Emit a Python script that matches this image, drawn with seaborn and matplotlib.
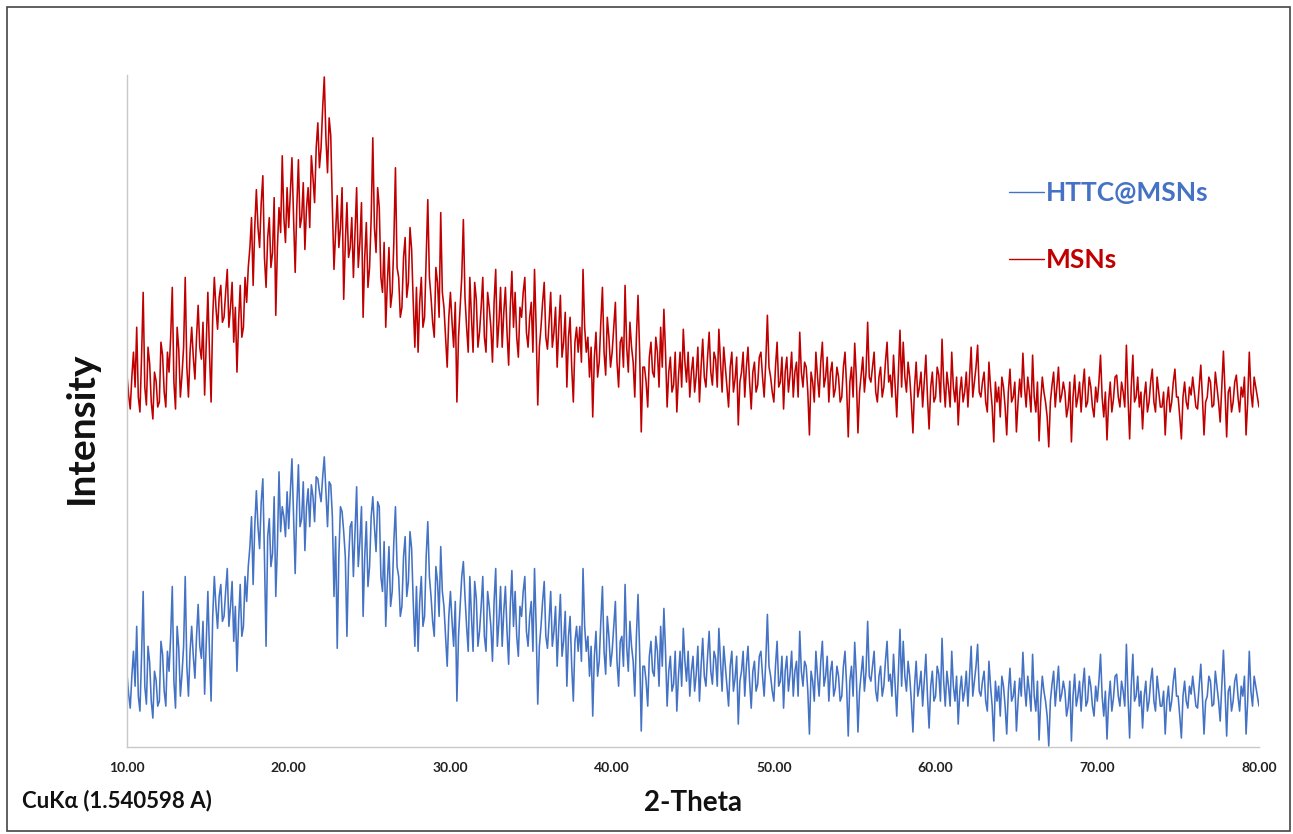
import numpy as np
import pandas as pd
import matplotlib
matplotlib.use("Agg")
import matplotlib.pyplot as plt
import seaborn as sns
from matplotlib.patches import Rectangle
from matplotlib.lines import Line2D

# 2-theta grid (degrees), 0.1 deg step
THETA = np.round(np.arange(0, 701) * 0.1 + 10.0, 2)

MSNS = [
    372,352, 338,370, 395,360, 420,350, 335,390, 455,360, 342,400, 384,345, 328,375, 366,340,
    345,405, 392,355, 340,395, 375,410, 460,365, 338,420, 398,350, 372,400, 470,380, 350,395,
    420,390, 368,410, 442,400, 388,425, 352,405, 455,395, 345,430, 470,440, 418,450, 462,425,
    430,455, 478,420, 440,465, 405,440, 375,425, 462,410, 420,470, 445,480, 500,530, 462,520,
    558,520, 500,545, 572,490, 460,510, 530,480, 495,550, 432,500, 540,515, 592,530, 505,560,
    520,555, 590,530, 475,540, 588,520, 530,565, 498,540, 560,520, 592,570, 545,600, 625,580,
    600,640, 671,610, 575,630, 612,540, 478,515, 552,500, 520,560, 448,505, 545,490, 500,530,
    470,515, 560,480, 505,545, 430,490, 525,460, 480,530, 610,520, 495,560, 540,470, 455,505,
    420,465, 500,440, 455,505, 580,480, 470,430, 440,490, 510,450, 465,520, 498,445, 400,460,
    395,445, 470,420, 430,490, 548,470, 450,425, 410,480, 465,430, 535,455, 440,410, 380,430,
    455,425, 400,445, 345,410, 440,470, 528,450, 420,395, 470,430, 395,465, 448,400, 415,440,
    470,410, 395,455, 440,420, 385,445, 478,400, 425,460, 400,435, 460,415, 382,440, 476,420,
    455,410, 390,440, 430,455, 470,415, 400,430, 445,395, 478,420, 342,400, 420,445, 465,410,
    398,425, 455,400, 415,440, 380,420, 452,390, 405,435, 360,410, 430,380, 345,405, 420,395,
    420,385, 478,420, 395,410, 370,400, 330,390, 415,370, 385,425, 460,395, 372,430, 410,380,
    395,420, 445,385, 360,405, 410,380, 462,400, 375,425, 400,385, 350,410, 452,395, 315,380,
    380,365, 340,390, 405,375, 370,410, 395,360, 420,380, 438,395, 340,375, 390,355, 362,395,
    335,370, 395,360, 418,385, 365,395, 350,375, 390,355, 372,400, 345,380, 408,370, 360,390,
    415,375, 362,395, 388,360, 418,385, 355,400, 380,360, 340,380, 395,355, 368,390, 322,365,
    375,395, 350,380, 400,365, 338,375, 385,355, 362,390, 395,370, 350,385, 432,380, 370,355,
    345,380, 405,360, 365,390, 338,375, 390,355, 372,395, 350,375, 385,350, 415,375, 360,385,
    380,355, 312,375, 365,345, 395,370, 350,385, 405,360, 370,390, 345,375, 385,350, 358,380,
    370,345, 350,380, 395,360, 310,365, 380,350, 404,370, 314,355, 372,390, 355,375, 425,370,
    365,380, 395,355, 345,370, 380,350, 360,385, 405,365, 372,350, 392,360, 330,375, 417,360,
    405,370, 355,385, 370,345, 314,360, 385,350, 360,375, 340,365, 392,350, 318,360, 375,345,
    350,380, 372,345, 408,365, 340,375, 360,340, 395,360, 345,370, 322,355, 370,345, 355,375,
    340,370, 400,350, 365,380, 402,355, 350,365, 375,345, 335,385, 360,340, 305,365, 345,360,
    330,370, 360,340, 312,355, 378,345, 350,365, 315,345, 368,350, 394,360, 340,370, 355,335,
    392,350, 335,365, 306,345, 370,355, 345,330, 300,345, 362,375, 340,360, 380,345, 352,365,
    355,330, 340,365, 305,350, 372,340, 350,365, 335,360, 378,340, 345,370, 360,340, 330,360,
    345,365, 392,350, 330,355, 307,345, 365,335, 348,370, 372,350, 340,365, 355,340, 402,350,
    308,360, 392,345, 350,370, 340,355, 318,350, 365,335, 345,365, 378,345, 335,370, 355,340,
    340,355, 312,345, 360,335, 345,365, 378,350, 350,330, 308,350, 365,345, 338,360, 352,370,
    355,340, 338,360, 382,350, 312,345, 350,370, 365,340, 342,375, 360,345, 325,360, 396,355,
    310,355, 360,335, 345,365, 372,350, 335,360, 350,370, 312,345, 395,355, 340,370, 360,350,
    340,
]

HTTC_MSNS = [
    72,52, 38,70, 95,60, 120,50, 35,90, 155,60, 42,100, 84,45, 28,75, 66,40,
    45,105, 92,55, 40,95, 75,110, 160,65, 38,120, 98,50, 72,100, 170,80, 50,95,
    120,90, 68,110, 142,100, 88,125, 52,105, 155,95, 45,130, 170,140, 118,150, 162,125,
    130,155, 178,120, 140,165, 105,140, 75,125, 162,110, 120,170, 145,180, 200,230, 162,220,
    256,220, 198,245, 268,190, 100,210, 228,180, 193,250, 150,200, 275,215, 240,230, 210,255,
    218,255, 288,230, 173,240, 282,220, 228,265, 196,240, 258,220, 262,250, 225,270, 268,255,
    245,270, 290,255, 220,265, 262,230, 150,210, 98,190, 240,235, 215,190, 110,185, 220,225,
    170,215, 260,180, 205,240, 130,190, 225,160, 180,230, 250,220, 195,245, 240,170, 155,205,
    120,165, 200,140, 155,205, 240,180, 170,130, 140,190, 210,150, 165,215, 198,145, 100,160,
    95,145, 170,120, 130,190, 225,170, 150,125, 110,180, 165,130, 200,155, 140,110, 80,130,
    155,125, 100,145, 45,110, 140,170, 185,150, 120,95, 170,130, 95,165, 148,100, 115,140,
    170,110, 95,155, 140,120, 85,145, 178,100, 125,160, 100,135, 160,115, 82,140, 176,120,
    155,110, 90,140, 130,155, 170,115, 100,130, 145,95, 178,120, 42,100, 120,145, 165,110,
    98,125, 155,100, 115,140, 80,120, 152,90, 105,135, 60,110, 130,80, 45,105, 120,95,
    120,85, 178,120, 95,110, 70,100, 30,90, 115,70, 85,125, 160,95, 72,130, 110,80,
    95,120, 145,85, 60,105, 110,80, 162,100, 75,125, 100,85, 50,110, 152,95, 15,80,
    80,65, 40,90, 105,75, 70,110, 95,60, 120,80, 138,95, 40,75, 90,55, 62,95,
    35,70, 95,60, 118,85, 65,95, 50,75, 90,55, 72,100, 45,80, 108,70, 60,90,
    115,75, 62,95, 88,60, 118,85, 55,100, 80,60, 40,80, 95,55, 68,90, 22,65,
    75,95, 50,80, 100,65, 38,75, 85,55, 62,90, 95,70, 50,85, 132,80, 70,55,
    45,80, 105,60, 65,90, 38,75, 90,55, 72,95, 50,75, 85,50, 115,75, 60,85,
    80,55, 12,75, 65,45, 95,70, 50,85, 105,60, 70,90, 45,75, 85,50, 58,80,
    70,45, 50,80, 95,60, 10,65, 80,50, 104,70, 14,55, 72,90, 55,75, 125,70,
    65,80, 95,55, 45,70, 80,50, 60,85, 105,65, 72,50, 92,60, 30,75, 117,60,
    105,70, 55,85, 70,45, 14,60, 85,50, 60,75, 40,65, 92,50, 18,60, 75,45,
    50,80, 72,45, 108,65, 40,75, 60,40, 95,60, 45,70, 22,55, 70,45, 55,75,
    40,70, 100,50, 65,80, 102,55, 50,65, 75,45, 35,85, 60,40, 5,65, 45,60,
    30,70, 60,40, 12,55, 78,45, 50,65, 15,45, 68,50, 94,60, 40,70, 55,35,
    92,50, 35,65, 6,45, 70,55, 45,30, 0,45, 62,75, 40,60, 80,45, 52,65,
    55,30, 40,65, 5,50, 72,40, 50,65, 35,60, 78,40, 45,70, 60,40, 30,60,
    45,65, 92,50, 30,55, 7,45, 65,35, 48,70, 72,50, 40,65, 55,40, 102,50,
    8,60, 92,45, 50,70, 40,55, 18,50, 65,35, 45,65, 78,45, 35,70, 55,40,
    40,55, 12,45, 60,35, 45,65, 78,50, 50,30, 8,50, 65,45, 38,60, 52,70,
    55,40, 38,60, 82,50, 12,45, 50,70, 65,40, 42,75, 60,45, 25,60, 96,55,
    10,55, 60,35, 45,65, 72,50, 35,60, 50,70, 12,45, 95,55, 40,70, 60,50,
    40,
]

SERIES = ["HTTC@MSNs", "MSNs"]
COLORS = ["#4472C4", "#C00000"]
XTICKS = [10, 20, 30, 40, 50, 60, 70, 80]
XTICK_LABELS = ["10.00", "20.00", "30.00", "40.00", "50.00", "60.00", "70.00", "80.00"]

df = pd.concat([
    pd.DataFrame({"theta": THETA, "intensity": HTTC_MSNS, "sample": SERIES[0]}),
    pd.DataFrame({"theta": THETA, "intensity": MSNS, "sample": SERIES[1]}),
])

sns.set_theme(style="white")
plt.rcParams["font.family"] = ["Lato", "DejaVu Sans"]

W, H = 1293, 834
fig = plt.figure(figsize=(W / 100, H / 100), dpi=100)
ax = fig.add_axes([127 / W, 1 - 747 / H, (1259 - 127) / W, (747 - 75) / H])

sns.lineplot(data=df, x="theta", y="intensity", hue="sample",
             hue_order=SERIES, palette=COLORS, linewidth=1.15,
             sort=False, estimator=None, ax=ax, legend=False)

ax.set_xlim(10, 80)
ax.set_ylim(-1, 673)
ax.set_xticks(XTICKS)
ax.set_xticklabels(XTICK_LABELS, fontsize=10, fontweight="bold", color="#222222")
ax.set_yticks([])
ax.tick_params(axis="x", length=0, pad=11)
for s in ["top", "right"]:
    ax.spines[s].set_visible(False)
for s in ["left", "bottom"]:
    ax.spines[s].set_color("#c8c8c8")
    ax.spines[s].set_linewidth(1.0)

ax.set_xlabel("2-Theta", fontsize=20, fontweight="bold", color="#111111", labelpad=11)
ax.set_ylabel("Intensity", fontsize=28, fontweight="bold", color="#111111")
ax.yaxis.label.set_va("center")
ax.yaxis.set_label_coords((81 - 127) / 1132, (747 - 428) / 672)

fig.text(22 / W, 1 - 801 / H, "CuKα (1.540598 A)", fontsize=16, fontweight="bold",
         color="#111111", va="center", ha="left")

# legend: short line + coloured label
handles = [Line2D([0], [0], color=c, lw=1.0) for c in COLORS]
leg = ax.legend(handles, SERIES, loc="upper left", frameon=False,
                bbox_to_anchor=(996 / W, 1 - 168 / H), bbox_transform=fig.transFigure,
                handlelength=1.3, handletextpad=0.1, labelspacing=1.63,
                borderpad=0, prop={"size": 19, "weight": "bold"})
for t, c in zip(leg.get_texts(), COLORS):
    t.set_color(c)

# outer frame around the image
fig.patches.append(Rectangle((7 / W, 3 / H), (W - 10) / W, (H - 10) / H,
                             transform=fig.transFigure, fill=False,
                             edgecolor="#444444", linewidth=1.2))

fig.savefig("out.png", dpi=100)
